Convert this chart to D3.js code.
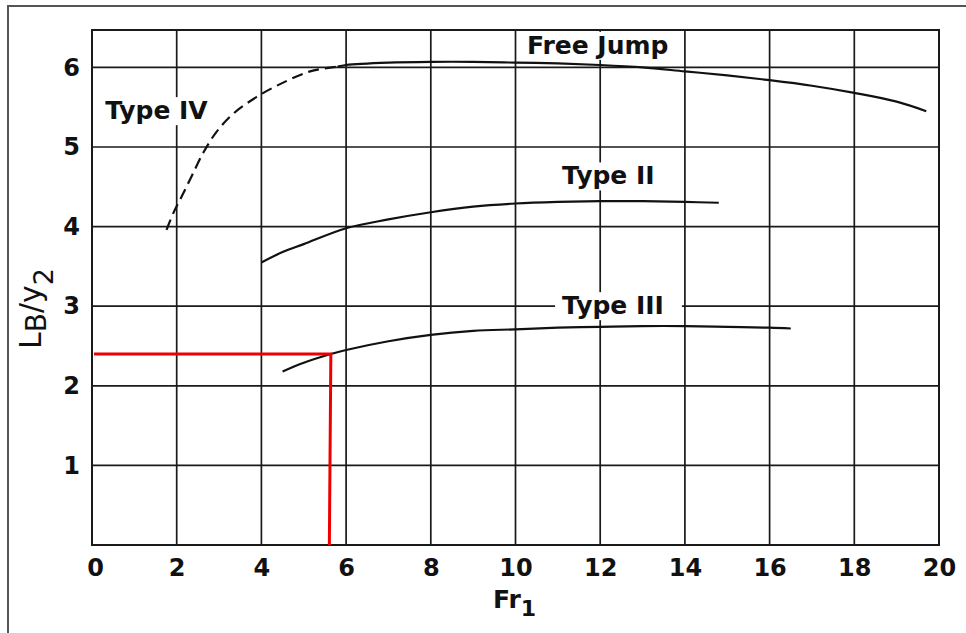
<!DOCTYPE html>
<html>
<head>
<meta charset="utf-8">
<script src="https://cdn.jsdelivr.net/npm/d3@7/dist/d3.min.js"></script>
<style>
  html, body { margin: 0; padding: 0; background: #fff; }
  svg { display: block; }
</style>
</head>
<body>
<svg id="chart" width="966" height="633"></svg>
<script>
// ---- data ----
const xTicks = [0, 2, 4, 6, 8, 10, 12, 14, 16, 18, 20];
const yTicks = [1, 2, 3, 4, 5, 6];

const typeIVx = [1.76, 1.92, 2.12, 2.35, 2.63, 2.94, 3.34, 3.89, 4.44, 5.15, 5.8];
const typeIVy = [3.96, 4.17, 4.38, 4.63, 4.93, 5.19, 5.42, 5.63, 5.79, 5.95, 6.01];

const freeJumpX = [5.8, 6, 7, 8, 9, 10, 11, 12, 13, 14, 15, 16, 17, 18, 19, 19.7];
const freeJumpY = [6.01, 6.03, 6.06, 6.07, 6.07, 6.06, 6.05, 6.03, 6.0, 5.95, 5.9, 5.84, 5.77, 5.68, 5.57, 5.45];

const typeIIx = [4.0, 4.5, 5, 6, 7, 8, 9, 10, 11, 12, 13, 14, 14.8];
const typeIIy = [3.55, 3.68, 3.78, 3.98, 4.09, 4.18, 4.25, 4.29, 4.31, 4.32, 4.32, 4.31, 4.30];

const typeIIIx = [4.5, 5, 5.64, 6, 7, 8, 9, 10, 11, 12, 13, 14, 15, 16, 16.5];
const typeIIIy = [2.18, 2.29, 2.40, 2.45, 2.56, 2.64, 2.69, 2.71, 2.73, 2.74, 2.75, 2.75, 2.74, 2.73, 2.72];

const readX = 5.64, readY = 2.4;   // red read-off point

const labelText = ["Type IV", "Free Jump", "Type II", "Type III"];
const labelX = [0.31, 10.27, 11.1, 11.1];
const labelY = [5.35, 6.17, 4.53, 2.9];

// ---- drawing ----
const svg = d3.select("#chart");
const x = d3.scaleLinear().domain([0, 20]).range([92, 939]);
const y = d3.scaleLinear().domain([0, 6.47]).range([545, 30]);
const FONT = "'DejaVu Sans', Verdana, sans-serif";
const labelPadR = [7, 7, 7, 18];

// outer frame (top and left edges)
svg.append("path")
  .attr("d", "M8,633 L8,6 L966,6")
  .attr("fill", "none").attr("stroke", "#555").attr("stroke-width", 2);

// grid
const g = svg.append("g");
g.selectAll(".vg").data(xTicks.slice(1, -1)).join("line")
  .attr("x1", d => x(d)).attr("x2", d => x(d))
  .attr("y1", y.range()[0]).attr("y2", y.range()[1])
  .attr("stroke", "#1a1a1a").attr("stroke-width", 1.7);
g.selectAll(".hg").data(yTicks).join("line")
  .attr("x1", x.range()[0]).attr("x2", x.range()[1])
  .attr("y1", d => y(d)).attr("y2", d => y(d))
  .attr("stroke", "#1a1a1a").attr("stroke-width", 1.7);

// plot border
svg.append("rect")
  .attr("x", x(0)).attr("y", y.range()[1])
  .attr("width", x(20) - x(0)).attr("height", y(0) - y.range()[1])
  .attr("fill", "none").attr("stroke", "#1a1a1a").attr("stroke-width", 2);

// axes (labels only, via d3 axes)
const xAxis = svg.append("g").attr("transform", `translate(0,${y(0)})`)
  .call(d3.axisBottom(x).tickValues(xTicks).tickSize(0).tickPadding(14).tickFormat(d3.format("d")));
xAxis.select(".domain").remove();
xAxis.selectAll("text").attr("font-family", FONT).attr("font-weight", "bold")
  .attr("font-size", 24).attr("fill", "#111");
xAxis.selectAll(".tick").filter(d => d === 0).select("text").attr("dx", 3);

const yAxis = svg.append("g").attr("transform", `translate(${x(0)},0)`)
  .call(d3.axisLeft(y).tickValues(yTicks).tickSize(0).tickPadding(12).tickFormat(d3.format("d")));
yAxis.select(".domain").remove();
yAxis.selectAll("text").attr("font-family", FONT).attr("font-weight", "bold")
  .attr("font-size", 24).attr("fill", "#111");

// axis titles
const xt = svg.append("text")
  .attr("x", 493).attr("y", 608)
  .attr("font-family", FONT).attr("font-weight", "bold").attr("font-size", 25).attr("fill", "#111");
xt.append("tspan").text("Fr");
xt.append("tspan").attr("dy", 8).attr("font-size", 22).text("1");

const yt = svg.append("text")
  .attr("transform", "translate(41,349) rotate(-90)")
  .attr("font-family", FONT).attr("font-size", 30).attr("fill", "#111");
yt.append("tspan").text("L");
yt.append("tspan").attr("dy", 5).attr("font-size", 28).text("B");
yt.append("tspan").attr("dy", -5).text("/y");
yt.append("tspan").attr("dy", 12).attr("font-size", 27).text("2");

// labels with white backgrounds
const lg = svg.append("g");
labelText.forEach((t, i) => {
  const tx = lg.append("text")
    .attr("x", x(labelX[i])).attr("y", y(labelY[i]))
    .attr("font-family", FONT).attr("font-weight", "bold").attr("font-size", 25)
    .attr("fill", "#111").text(t);
  const bb = tx.node().getBBox();
  lg.insert("rect", "text")
    .attr("x", bb.x - 7).attr("y", bb.y + 1)
    .attr("width", bb.width + 7 + labelPadR[i]).attr("height", bb.height - 1)
    .attr("fill", "#fff");
});

// curves
const line = d3.line().x(d => x(d[0])).y(d => y(d[1])).curve(d3.curveCatmullRom.alpha(0.5));
const zip = (a, b) => a.map((v, i) => [v, b[i]]);

const curves = svg.append("g").attr("fill", "none").attr("stroke", "#111").attr("stroke-width", 2.2);
curves.append("path").attr("d", line(zip(typeIVx, typeIVy))).attr("stroke-dasharray", "11,6");
curves.append("path").attr("d", line(zip(freeJumpX, freeJumpY)));
curves.append("path").attr("d", line(zip(typeIIx, typeIIy)));
curves.append("path").attr("d", line(zip(typeIIIx, typeIIIy)));

// red read-off lines
svg.append("path")
  .attr("d", `M${x(0) + 2},${y(readY)} L${x(readX)},${y(readY)} L${x(readX) - 1.5},${y(0)}`)
  .attr("fill", "none").attr("stroke", "#ee0000").attr("stroke-width", 3);
</script>
</body>
</html>
